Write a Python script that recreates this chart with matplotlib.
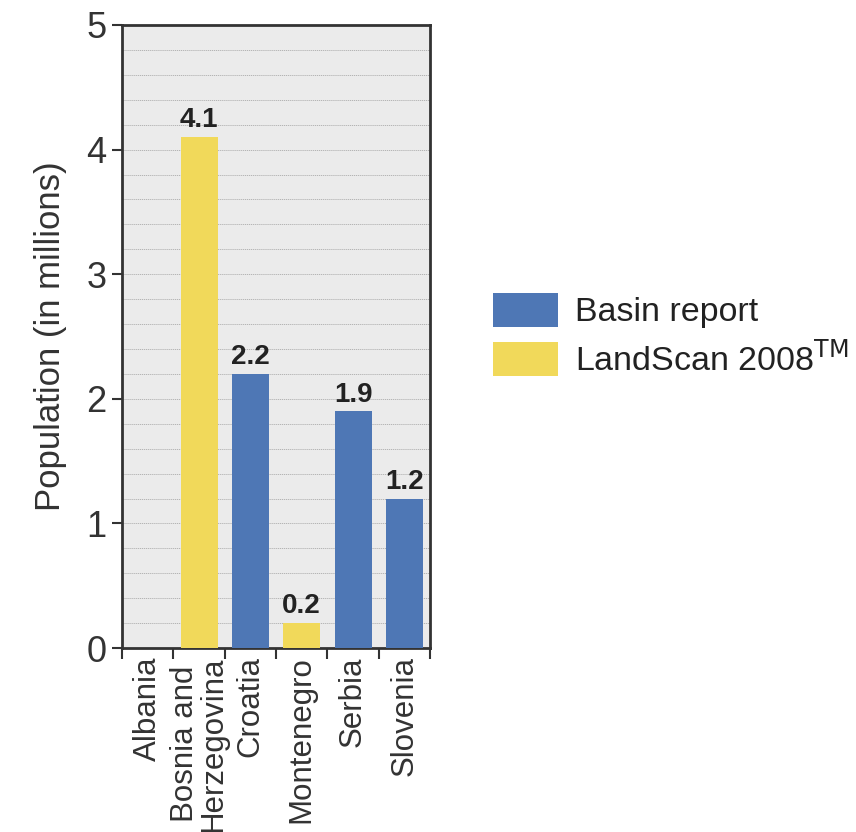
import numpy as np
import matplotlib
matplotlib.use('Agg')
import matplotlib.pyplot as plt
from matplotlib.patches import Patch

countries = ['Albania', 'Bosnia and\nHerzegovina', 'Croatia', 'Montenegro', 'Serbia', 'Slovenia']
population = [np.nan, 4.1, 2.2, 0.2, 1.9, 1.2]
source = [None, 'LandScan', 'Basin', 'LandScan', 'Basin', 'Basin']

colors = {'Basin': '#4e77b5', 'LandScan': '#f1d95a'}
plt.rcParams['font.family'] = ['Liberation Sans', 'DejaVu Sans']
plt.rcParams['text.color'] = '#222222'

fig = plt.figure(figsize=(8.56, 8.32), dpi=100)
ax = fig.add_axes([0.1425, 0.221, 0.36, 0.749])
ax.set_facecolor('#ebebeb')

x = np.arange(len(countries))
for xi, val, src in zip(x, population, source):
    if src is None or np.isnan(val):
        continue
    ax.bar(xi, val, width=0.72, color=colors[src], zorder=3)
    ax.text(xi, val + 0.03, f'{val:.1f}', ha='center', va='bottom',
            fontsize=20, fontweight='bold', color='#222222', zorder=4)

ax.set_xlim(-0.5, len(countries) - 0.5)
ax.set_ylim(0, 5)
ax.set_yticks(range(6))
ax.set_yticks(np.arange(0, 5.01, 0.2), minor=True)
ax.yaxis.grid(True, which='both', linestyle=(0, (1.2, 0.8)), color='#b4b4b4', linewidth=0.7, zorder=0)
ax.tick_params(axis='y', which='major', labelsize=26, length=7, width=1.5, pad=4,
               color='#333333', labelcolor='#333333')
ax.tick_params(axis='y', which='minor', length=0)

# category boundaries carry the ticks, names sit between them
ax.set_xticks(np.arange(-0.5, len(countries), 1.0))
ax.set_xticklabels([])
ax.set_xticks(x, minor=True)
ax.set_xticklabels(countries, minor=True, rotation=90, fontsize=22.5, color='#333333',
                   va='top', ha='center', linespacing=0.95)
ax.tick_params(axis='x', which='major', length=8, width=1.5, color='#333333')
ax.tick_params(axis='x', which='minor', length=0, pad=6)

for s in ax.spines.values():
    s.set_linewidth(2)
    s.set_color('#333333')

ax.set_ylabel('Population (in millions)', fontsize=25, color='#333333', labelpad=14)

handles = [Patch(facecolor=colors['Basin'], label='Basin report'),
           Patch(facecolor=colors['LandScan'], label=r'LandScan 2008$^{\mathrm{TM}}$')]
fig.legend(handles=handles, loc='center left', bbox_to_anchor=(0.576, 0.597), frameon=False,
           fontsize=24.5, handlelength=1.9, handleheight=1.15, handletextpad=0.5, labelspacing=0.4,
           borderaxespad=0, borderpad=0)

fig.savefig('out.png', dpi=100)
